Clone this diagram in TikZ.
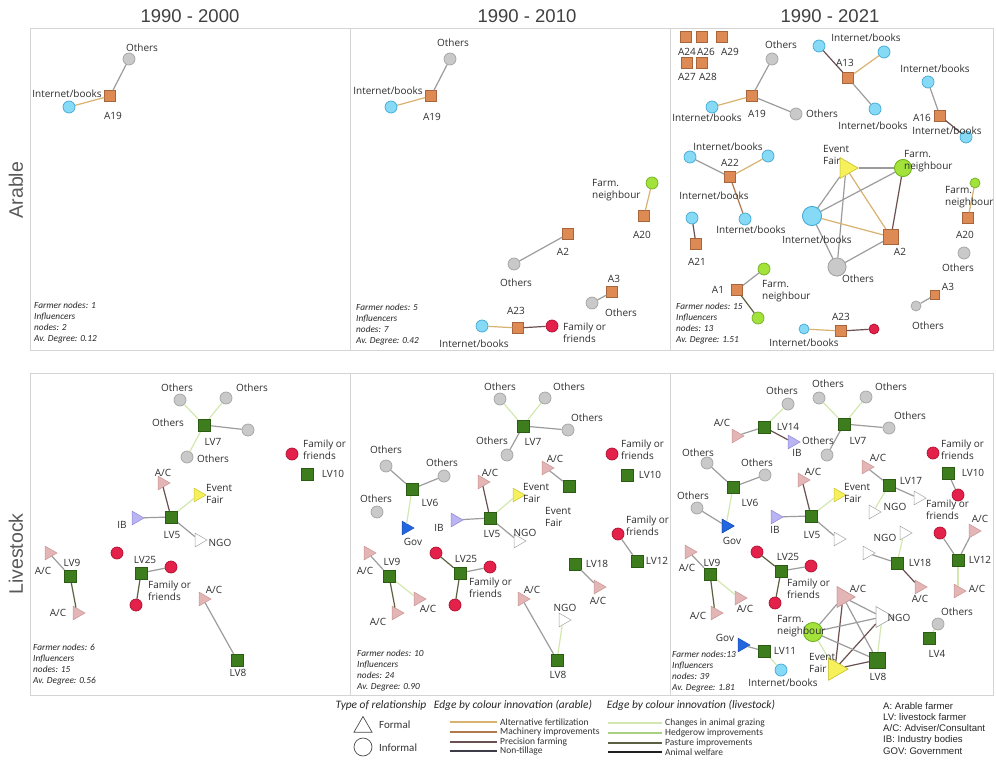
\documentclass[tikz,border=0pt]{standalone}
\usepackage{fontspec}
\setmainfont{Carlito}
\newfontfamily\arialf{Liberation Sans}
\newfontfamily\opens{Open Sans}
\usetikzlibrary{shapes.geometric}
\definecolor{arab}{HTML}{DE8A55}\definecolor{arabd}{HTML}{A8643A}
\definecolor{lvg}{HTML}{3E7D1E}\definecolor{lvgd}{HTML}{2C5C14}
\definecolor{othc}{HTML}{C9C9C9}\definecolor{othd}{HTML}{A3A3A3}
\definecolor{cyn}{HTML}{86DAF5}\definecolor{cynd}{HTML}{3FA9D6}
\definecolor{nbrc}{HTML}{A2E23A}\definecolor{nbrd}{HTML}{70B020}
\definecolor{famc}{HTML}{E3214B}\definecolor{famd}{HTML}{B0102E}
\definecolor{acp}{HTML}{E3B5B5}\definecolor{acpd}{HTML}{C89494}
\definecolor{ibc}{HTML}{BBB4F2}\definecolor{ibd}{HTML}{8F86D8}
\definecolor{yelc}{HTML}{F6F05A}\definecolor{yeld}{HTML}{C9C23A}
\definecolor{govc}{HTML}{2266E0}\definecolor{govd}{HTML}{1A4FB0}
\definecolor{eAF}{HTML}{D9B26F}\definecolor{eMI}{HTML}{B07A50}
\definecolor{ePF}{HTML}{6A5050}\definecolor{eNT}{HTML}{3E3C48}
\definecolor{eCG}{HTML}{D2E8B0}\definecolor{eHI}{HTML}{A8D080}
\definecolor{ePI}{HTML}{5A6040}\definecolor{eAW}{HTML}{202020}
\definecolor{egr}{HTML}{9C9C9C}\definecolor{panelc}{HTML}{D4D4D4}
\tikzset{
  panel/.style={draw=panelc, line width=0.6pt},
  sqa/.style={rectangle, fill=arab, draw=arabd, line width=0.4pt, minimum size=11pt, inner sep=0pt},
  sql/.style={rectangle, fill=lvg, draw=lvgd, line width=0.4pt, minimum size=12pt, inner sep=0pt},
  crc/.style={circle, minimum size=12pt, inner sep=0pt, line width=0.7pt},
  oth/.style={crc, fill=othc, draw=othd},
  inet/.style={crc, fill=cyn, draw=cynd},
  nbr/.style={crc, fill=nbrc, draw=nbrd},
  fam/.style={crc, fill=famc, draw=famd},
  tri/.style={regular polygon, regular polygon sides=3, shape border rotate=-90, minimum size=16pt, inner sep=0pt, line width=0.5pt},
  ac/.style={tri, fill=acp, draw=acpd},
  ib/.style={tri, fill=ibc, draw=ibd},
  ev/.style={tri, fill=yelc, draw=yeld},
  gov/.style={tri, fill=govc, draw=govd},
  ngo/.style={tri, fill=white, draw=othd},
  lbl/.style={font=\opens\fontsize{10}{12}\selectfont, text=black!82, inner sep=0pt, align=left},
  stat/.style={font=\fontsize{9.3}{11}\selectfont\itshape, text=black!85, inner sep=0pt, align=left, anchor=north west},
  ttl/.style={font=\arialf\fontsize{18.5}{20}\selectfont, text=black!75, inner sep=0pt},
  row/.style={font=\arialf\fontsize{19.5}{20}\selectfont, text=black!65, inner sep=0pt, rotate=90},
  ed/.style={line width=1.2pt},
  eg/.style={ed, draw=egr},
  ea/.style={ed, draw=eAF},
  em/.style={ed, draw=eMI},
  ep/.style={ed, draw=ePF},
  ec/.style={ed, draw=eCG},
  eh/.style={ed, draw=eHI},
  eo/.style={ed, draw=ePI},
  lgt/.style={font=\fontsize{9.5}{10}\selectfont, text=black!80, inner sep=0pt, anchor=west},
  lgh/.style={font=\fontsize{11.4}{12}\selectfont\itshape, text=black!85, inner sep=0pt},
  lgr/.style={font=\arialf\fontsize{9.6}{10}\selectfont, text=black!85, inner sep=0pt, anchor=west},
}
\begin{document}
\begin{tikzpicture}[x=1pt,y=-1pt]
\useasboundingbox[fill=white] (0,0) rectangle (996,760);
% titles
\node[ttl] (t1) at (190,16) {1990 - 2000};
\node[ttl] (t2) at (527,16) {1990 - 2010};
\node[ttl] (t3) at (830,16) {1990 - 2021};
\node[row] (r1) at (16,190) {Arable};
\node[row] (r2) at (16,554) {Livestock};
% panels
\draw[panel] (30,28) rectangle (350,350);
\draw[panel] (350,28) rectangle (670,350);
\draw[panel] (670,28) rectangle (993,350);
\draw[panel] (30,373) rectangle (350,695);
\draw[panel] (350,373) rectangle (670,695);
\draw[panel] (670,373) rectangle (993,695);

%================ Panel 1: Arable 1990-2000
\node[sqa] (a1A19) at (110,96) {};
\node[oth] (a1o) at (129,59) {};
\node[inet] (a1i) at (69,107) {};
\draw[eg] (a1A19) -- (a1o);
\draw[ea] (a1A19) -- (a1i);
\node[lbl] (a1lo) at (142,48) {Others};
\node[lbl] (a1la) at (113,116) {A19};
\node[lbl] (a1li) at (67,94) {Internet/books};
\node[stat] (a1s) at (34,302) {Farmer nodes: 1\\Influencers\\nodes: 2\\Av. Degree: 0.12};

%================ Panel 2: Arable 1990-2010
\node[sqa] (a2A19) at (431,96) {};
\node[oth] (a2o1) at (450,59) {};
\node[inet] (a2i1) at (391,107) {};
\node[nbr] (a2n) at (652,183) {};
\node[sqa] (a2A20) at (644,216) {};
\node[sqa] (a2A2) at (568,234) {};
\node[oth] (a2o2) at (514,264) {};
\node[sqa] (a2A3) at (612,292) {};
\node[oth] (a2o3) at (592,303) {};
\node[sqa] (a2A23) at (518,328) {};
\node[inet] (a2i2) at (482,326) {};
\node[fam] (a2f) at (552,326) {};
\draw[eg] (a2A19) -- (a2o1);
\draw[ea] (a2A19) -- (a2i1);
\draw[ea] (a2A20) -- (a2n);
\draw[eg] (a2A2) -- (a2o2);
\draw[eg] (a2A3) -- (a2o3);
\draw[ea] (a2A23) -- (a2i2);
\draw[ep] (a2A23) -- (a2f);
\node[lbl] (a2l1) at (453,43) {Others};
\node[lbl] (a2l2) at (432,117) {A19};
\node[lbl] (a2l3) at (388,91) {Internet/books};
\node[lbl, anchor=west] (a2l4) at (592,190) {Farm.\\neighbour};
\node[lbl] (a2l5) at (642,235) {A20};
\node[lbl] (a2l6) at (563,252) {A2};
\node[lbl] (a2l7) at (516,283) {Others};
\node[lbl] (a2l8) at (614,279) {A3};
\node[lbl] (a2l9) at (621,313) {Others};
\node[lbl] (a2l10) at (516,311) {A23};
\node[lbl] (a2l11) at (474,344) {Internet/books};
\node[lbl, anchor=west] (a2l12) at (563,333) {Family or\\friends};
\node[stat] (a2s) at (356,304) {Farmer nodes: 5\\Influencers\\nodes: 7\\Av. Degree: 0.42};

%================ Panel 3: Arable 1990-2021
\node[sqa] (a3A24) at (686,37) {};
\node[sqa] (a3A26) at (702,37) {};
\node[sqa] (a3A29) at (722,37) {};
\node[sqa] (a3A27) at (687,63) {};
\node[sqa] (a3A28) at (702,63) {};
\node[lbl] (a3l24) at (687,52) {A24};
\node[lbl] (a3l26) at (706,52) {A26};
\node[lbl] (a3l29) at (730,52) {A29};
\node[lbl] (a3l27) at (687,77) {A27};
\node[lbl] (a3l28) at (708,77) {A28};
% A19
\node[sqa] (a3A19) at (752,96) {};
\node[oth] (a3o1) at (772,59) {};
\node[inet] (a3i1) at (712,107) {};
\node[oth] (a3o2) at (796,114) {};
\draw[eg] (a3A19) -- (a3o1);
\draw[ea] (a3A19) -- (a3i1);
\draw[eg] (a3A19) -- (a3o2);
\node[lbl] (a3l1) at (757,114) {A19};
\node[lbl] (a3l2) at (707,118) {Internet/books};
\node[lbl] (a3l3) at (781,45) {Others};
\node[lbl] (a3l4) at (822,114) {Others};
% A13
\node[sqa] (a3A13) at (848,78) {};
\node[inet] (a3i2) at (819,46) {};
\node[inet] (a3i3) at (884,52) {};
\node[inet] (a3i4) at (875,109) {};
\draw[ep] (a3A13) -- (a3i2);
\draw[ea] (a3A13) -- (a3i3);
\draw[eg] (a3A13) -- (a3i4);
\node[lbl] (a3l5) at (845,63) {A13};
\node[lbl] (a3l6) at (866,38) {Internet/books};
\node[lbl] (a3l7) at (873,126) {Internet/books};
% A16
\node[sqa] (a3A16) at (940,116) {};
\node[inet] (a3i5) at (928,82) {};
\node[inet] (a3i6) at (966,137) {};
\draw[eg] (a3A16) -- (a3i5);
\draw[ep] (a3A16) -- (a3i6);
\node[lbl] (a3l8) at (935,69) {Internet/books};
\node[lbl] (a3l9) at (922,118) {A16};
\node[lbl] (a3l10) at (947,131) {Internet/books};
% A22
\node[sqa] (a3A22) at (730,177) {};
\node[inet] (a3i7) at (690,157) {};
\node[inet] (a3i8) at (768,156) {};
\node[inet] (a3i9) at (745,219) {};
\draw[eg] (a3A22) -- (a3i7);
\draw[ea] (a3A22) -- (a3i8);
\draw[em] (a3A22) -- (a3i9);
\node[lbl] (a3l11) at (730,163) {A22};
\node[lbl] (a3l12) at (728,147) {Internet/books};
\node[lbl] (a3l13) at (714,196) {Internet/books};
\node[lbl] (a3l14) at (751,230) {Internet/books};
% A21
\node[sqa] (a3A21) at (696,244) {};
\node[inet] (a3i10) at (692,218) {};
\draw[ep] (a3A21) -- (a3i10);
\node[lbl] (a3l15) at (697,262) {A21};
% K5
\node[ev, minimum size=24pt] (a3ev) at (846,168) {};
\node[nbr, minimum size=17pt] (a3n1) at (903,168) {};
\node[inet, minimum size=19pt] (a3i11) at (812,216) {};
\node[sqa, minimum size=15pt] (a3A2) at (891,237) {};
\node[oth, minimum size=18pt] (a3o3) at (837,267) {};
\draw[eg] (a3ev) -- (a3n1);
\draw[eg] (a3ev) -- (a3i11);
\draw[ea] (a3ev) -- (a3A2);
\draw[eg] (a3ev) -- (a3o3);
\draw[eg] (a3n1) -- (a3i11);
\draw[ep] (a3n1) -- (a3A2);
\draw[ea] (a3i11) -- (a3A2);
\draw[eg] (a3i11) -- (a3o3);
\draw[eg] (a3o3) -- (a3A2);
\node[ev, minimum size=24pt] (a3evb) at (846,168) {};
\node[nbr, minimum size=17pt] (a3n1b) at (903,168) {};
\node[inet, minimum size=19pt] (a3i11b) at (812,216) {};
\node[sqa, minimum size=15pt] (a3A2b) at (891,237) {};
\node[oth, minimum size=18pt] (a3o3b) at (837,267) {};
\node[lbl, anchor=west] (a3l16) at (823,155) {Event\\Fair};
\node[lbl, anchor=west] (a3l17) at (904,161) {Farm.\\neighbour};
\node[lbl] (a3l18) at (817,240) {Internet/books};
\node[lbl] (a3l19) at (900,252) {A2};
\node[lbl] (a3l20) at (858,279) {Others};
% A20
\node[nbr, minimum size=10pt] (a3n2) at (975,183) {};
\node[sqa] (a3A20) at (968,218) {};
\node[oth] (a3o4) at (964,253) {};
\draw[ea] (a3A20) -- (a3n2);
\node[lbl, anchor=west] (a3l21) at (945,197) {Farm.\\neighbour};
\node[lbl] (a3l22) at (965,235) {A20};
\node[lbl] (a3l23) at (958,268) {Others};
% A1
\node[sqa] (a3A1) at (737,290) {};
\node[nbr] (a3n3) at (764,269) {};
\node[nbr] (a3n4) at (758,318) {};
\draw[eg] (a3A1) -- (a3n3);
\draw[eo] (a3A1) -- (a3n4);
\node[lbl] (a3l24b) at (718,290) {A1};
\node[lbl, anchor=west] (a3l25) at (762,291) {Farm.\\neighbour};
% A3
\node[sqa, minimum size=9pt] (a3A3) at (935,295) {};
\node[oth, minimum size=10pt] (a3o5) at (916,306) {};
\draw[eg] (a3A3) -- (a3o5);
\node[lbl] (a3l26b) at (948,287) {A3};
\node[lbl] (a3l27b) at (928,326) {Others};
% A23
\node[sqa] (a3A23) at (841,331) {};
\node[inet, minimum size=10pt] (a3i12) at (804,329) {};
\node[fam, minimum size=10pt] (a3f) at (874,329) {};
\draw[ea] (a3A23) -- (a3i12);
\draw[ep] (a3A23) -- (a3f);
\node[lbl] (a3l28b) at (841,317) {A23};
\node[lbl] (a3l29b) at (804,343) {Internet/books};
\node[stat] (a3s) at (676,303) {Farmer nodes: 15\\Influencers\\nodes: 13\\Av. Degree: 1.51};

%================ Panel 4: Livestock 1990-2000
\node[sql] (b1LV7) at (204,425) {};
\node[oth] (b1o1) at (180,400) {};
\node[oth] (b1o2) at (226,398) {};
\node[oth] (b1o3) at (248,430) {};
\node[oth] (b1o4) at (187,457) {};
\draw[ec] (b1LV7) -- (b1o1);
\draw[ec] (b1LV7) -- (b1o2);
\draw[eg] (b1LV7) -- (b1o3);
\draw[ec] (b1LV7) -- (b1o4);
\node[sql] (b1LV7b) at (204,425) {};
\node[lbl] (b1l1) at (213,442) {LV7};
\node[lbl] (b1l2) at (177,388) {Others};
\node[lbl] (b1l3) at (252,388) {Others};
\node[lbl] (b1l4) at (168,423) {Others};
\node[lbl] (b1l5) at (213,459) {Others};
\node[fam] (b1f1) at (292,454) {};
\node[sql] (b1LV10) at (307,474) {};
\node[lbl, anchor=west] (b1l6) at (303,450) {Family or\\friends};
\node[lbl] (b1l7) at (333,474) {LV10};
\node[sql] (b1LV5) at (171,517) {};
\node[ac] (b1ac1) at (162,483) {};
\node[ev] (b1ev) at (198,495) {};
\node[ib] (b1ib) at (136,518) {};
\node[ngo] (b1ngo) at (199,540) {};
\draw[ep] (b1LV5) -- (b1ac1);
\draw[ec] (b1LV5) -- (b1ev);
\draw[eg] (b1LV5) -- (b1ib);
\draw[eg] (b1LV5) -- (b1ngo);
\node[sql] (b1LV5b) at (171,517) {};
\node[lbl] (b1l8) at (172,535) {LV5};
\node[lbl] (b1l9) at (163,473) {A/C};
\node[lbl, anchor=west] (b1l10) at (206,494) {Event\\Fair};
\node[lbl] (b1l11) at (122,525) {IB};
\node[lbl] (b1l12) at (220,543) {NGO};
\node[sql] (b1LV9) at (70,576) {};
\node[ac] (b1ac2) at (49,553) {};
\node[ac] (b1ac3) at (77,613) {};
\draw[eg] (b1LV9) -- (b1ac2);
\draw[eo] (b1LV9) -- (b1ac3);
\node[sql] (b1LV9b) at (70,576) {};
\node[lbl] (b1l13) at (72,563) {LV9};
\node[lbl] (b1l14) at (43,571) {A/C};
\node[lbl] (b1l15) at (58,613) {A/C};
\node[sql] (b1LV25) at (141,573) {};
\node[fam] (b1f2) at (117,553) {};
\node[fam] (b1f3) at (171,567) {};
\node[fam] (b1f4) at (136,605) {};
\draw[eg] (b1LV25) -- (b1f3);
\draw[eo] (b1LV25) -- (b1f4);
\node[sql] (b1LV25b) at (141,573) {};
\node[lbl] (b1l16) at (145,560) {LV25};
\node[lbl, anchor=west] (b1l17) at (148,591) {Family or\\friends};
\node[sql] (b1LV8) at (237,660) {};
\node[ac] (b1ac4) at (203,599) {};
\draw[eg] (b1LV8) -- (b1ac4);
\node[sql] (b1LV8b) at (237,660) {};
\node[lbl] (b1l18) at (214,590) {A/C};
\node[lbl] (b1l19) at (238,673) {LV8};
\node[stat] (b1s) at (33,644) {Farmer nodes: 6\\Influencers\\nodes: 15\\Av. Degree: 0.56};

%================ Panel 5: Livestock 1990-2010
\node[sql] (b2LV7) at (523,426) {};
\node[oth] (b2o1) at (500,399) {};
\node[oth] (b2o2) at (545,398) {};
\node[oth] (b2o3) at (568,430) {};
\node[oth] (b2o4) at (507,455) {};
\draw[ec] (b2LV7) -- (b2o1);
\draw[ec] (b2LV7) -- (b2o2);
\draw[eg] (b2LV7) -- (b2o3);
\draw[eg] (b2LV7) -- (b2o4);
\node[sql] (b2LV7b) at (523,426) {};
\node[lbl] (b2l1) at (533,442) {LV7};
\node[lbl] (b2l2) at (500,387) {Others};
\node[lbl] (b2l3) at (569,387) {Others};
\node[lbl] (b2l4) at (587,418) {Others};
\node[lbl] (b2l5) at (492,441) {Others};
\node[fam] (b2f1) at (612,454) {};
\node[sql] (b2LV10) at (627,475) {};
\node[lbl, anchor=west] (b2l6) at (621,450) {Family or\\friends};
\node[lbl] (b2l7) at (650,475) {LV10};
\node[ac] (b2ac1) at (546,468) {};
\node[sql] (b2sq) at (569,486) {};
\draw[eg] (b2sq) -- (b2ac1);
\node[lbl] (b2l8) at (555,459) {A/C};
\node[sql] (b2LV6) at (412,489) {};
\node[oth] (b2o5) at (386,466) {};
\node[oth] (b2o6) at (444,476) {};
\node[oth] (b2o7) at (377,512) {};
\node[gov] (b2gov) at (406,528) {};
\draw[eg] (b2LV6) -- (b2o5);
\draw[eg] (b2LV6) -- (b2o6);
\draw[ec] (b2LV6) -- (b2gov);
\node[sql] (b2LV6b) at (412,489) {};
\node[lbl] (b2l9) at (430,503) {LV6};
\node[lbl] (b2l10) at (386,450) {Others};
\node[lbl] (b2l11) at (442,463) {Others};
\node[lbl] (b2l12) at (376,499) {Others};
\node[lbl] (b2l13) at (413,542) {Gov};
\node[sql] (b2LV5) at (490,518) {};
\node[ac] (b2ac2) at (482,482) {};
\node[ev] (b2ev) at (517,495) {};
\node[ib] (b2ib) at (455,520) {};
\node[ngo] (b2ngo) at (518,541) {};
\draw[ep] (b2LV5) -- (b2ac2);
\draw[ec] (b2LV5) -- (b2ev);
\draw[eg] (b2LV5) -- (b2ib);
\draw[eg] (b2LV5) -- (b2ngo);
\node[sql] (b2LV5b) at (490,518) {};
\node[lbl] (b2l14) at (492,534) {LV5};
\node[lbl] (b2l15) at (490,473) {A/C};
\node[lbl, anchor=west] (b2l16) at (523,493) {Event\\Fair};
\node[lbl, anchor=west] (b2l17) at (545,517) {Event\\Fair};
\node[lbl] (b2l18) at (439,528) {IB};
\node[lbl] (b2l19) at (525,533) {NGO};
\node[fam] (b2f2) at (618,534) {};
\node[sql] (b2LV12) at (637,561) {};
\draw[eg] (b2LV12) -- (b2f2);
\node[sql] (b2LV12b) at (637,561) {};
\node[lbl, anchor=west] (b2l20) at (626,526) {Family or\\friends};
\node[lbl] (b2l21) at (657,561) {LV12};
\node[sql] (b2LV18) at (575,564) {};
\node[ac] (b2ac3) at (598,587) {};
\draw[eg] (b2LV18) -- (b2ac3);
\node[lbl] (b2l22) at (597,564) {LV18};
\node[lbl] (b2l23) at (598,601) {A/C};
\node[sql] (b2LV9) at (389,576) {};
\node[ac] (b2ac4) at (368,553) {};
\node[ac] (b2ac5) at (418,599) {};
\node[ac] (b2ac6) at (396,613) {};
\draw[eg] (b2LV9) -- (b2ac4);
\draw[ec] (b2LV9) -- (b2ac5);
\draw[eo] (b2LV9) -- (b2ac6);
\node[sql] (b2LV9b) at (389,576) {};
\node[lbl] (b2l24) at (392,562) {LV9};
\node[lbl] (b2l25) at (365,571) {A/C};
\node[lbl] (b2l26) at (428,609) {A/C};
\node[lbl] (b2l27) at (378,622) {A/C};
\node[sql] (b2LV25) at (460,573) {};
\node[fam] (b2f3) at (436,553) {};
\node[fam] (b2f4) at (490,567) {};
\node[fam] (b2f5) at (455,605) {};
\draw[eo] (b2LV25) -- (b2f3);
\draw[eg] (b2LV25) -- (b2f4);
\draw[eo] (b2LV25) -- (b2f5);
\node[sql] (b2LV25b) at (460,573) {};
\node[lbl] (b2l28) at (466,559) {LV25};
\node[lbl, anchor=west] (b2l29) at (469,588) {Family or\\friends};
\node[sql] (b2LV8) at (557,660) {};
\node[ac] (b2ac7) at (522,599) {};
\node[ngo] (b2ngo2) at (563,620) {};
\draw[eg] (b2LV8) -- (b2ac7);
\draw[ec] (b2LV8) -- (b2ngo2);
\node[sql] (b2LV8b) at (557,660) {};
\node[lbl] (b2l30) at (532,590) {A/C};
\node[lbl] (b2l31) at (565,608) {NGO};
\node[lbl] (b2l32) at (558,675) {LV8};
\node[stat] (b2s) at (357,650) {Farmer nodes: 10\\Influencers\\nodes: 24\\Av. Degree: 0.90};

%================ Panel 6: Livestock 1990-2021
\node[sql] (b3LV14) at (764,427) {};
\node[oth] (b3o1) at (788,404) {};
\node[ac] (b3ac1) at (736,436) {};
\node[ib] (b3ib1) at (792,442) {};
\draw[ec] (b3LV14) -- (b3o1);
\draw[eg] (b3LV14) -- (b3ac1);
\draw[ep] (b3LV14) -- (b3ib1);
\node[sql] (b3LV14b) at (764,427) {};
\node[lbl] (b3l1) at (788,427) {LV14};
\node[lbl] (b3l2) at (782,391) {Others};
\node[lbl] (b3l3) at (722,423) {A/C};
\node[lbl] (b3l4) at (797,453) {IB};
\node[sql] (b3LV7) at (844,424) {};
\node[oth] (b3o2) at (819,398) {};
\node[oth] (b3o3) at (866,397) {};
\node[oth] (b3o4) at (889,428) {};
\node[oth] (b3o5) at (827,455) {};
\draw[ec] (b3LV7) -- (b3o2);
\draw[ec] (b3LV7) -- (b3o3);
\draw[eg] (b3LV7) -- (b3o4);
\draw[eg] (b3LV7) -- (b3o5);
\node[sql] (b3LV7b) at (844,424) {};
\node[lbl] (b3l5) at (858,441) {LV7};
\node[lbl] (b3l6) at (828,384) {Others};
\node[lbl] (b3l7) at (891,387) {Others};
\node[lbl] (b3l8) at (910,416) {Others};
\node[lbl] (b3l9) at (818,441) {Others};
\node[fam] (b3f1) at (933,453) {};
\node[sql] (b3LV10) at (948,473) {};
\node[fam] (b3f2) at (958,495) {};
\draw[eg] (b3LV10) -- (b3f2);
\node[sql] (b3LV10b) at (948,473) {};
\node[lbl, anchor=west] (b3l10) at (941,450) {Family or\\friends};
\node[lbl] (b3l11) at (973,473) {LV10};
\node[lbl, anchor=west] (b3l12) at (926,510) {Family or\\friends};
\node[sql] (b3LV17) at (889,485) {};
\node[ac] (b3ac2) at (866,467) {};
\node[ngo] (b3ngo1) at (918,498) {};
\node[ngo] (b3ngo2) at (873,512) {};
\draw[eg] (b3LV17) -- (b3ac2);
\draw[eg] (b3LV17) -- (b3ngo1);
\draw[ec] (b3LV17) -- (b3ngo2);
\node[sql] (b3LV17b) at (889,485) {};
\node[lbl] (b3l13) at (911,481) {LV17};
\node[lbl] (b3l14) at (878,458) {A/C};
\node[lbl] (b3l15) at (895,507) {NGO};
\node[sql] (b3LV6) at (733,487) {};
\node[oth] (b3o6) at (707,463) {};
\node[oth] (b3o7) at (765,475) {};
\node[oth] (b3o8) at (697,508) {};
\node[gov] (b3gov1) at (726,526) {};
\draw[eg] (b3LV6) -- (b3o6);
\draw[eg] (b3LV6) -- (b3o7);
\draw[ec] (b3LV6) -- (b3gov1);
\draw[eg] (b3o8) -- (b3gov1);
\node[sql] (b3LV6b) at (733,487) {};
\node[gov] (b3gov1b) at (726,526) {};
\node[lbl] (b3l16) at (750,503) {LV6};
\node[lbl] (b3l17) at (698,453) {Others};
\node[lbl] (b3l18) at (757,463) {Others};
\node[lbl] (b3l19) at (693,496) {Others};
\node[lbl] (b3l20) at (732,541) {Gov};
\node[sql] (b3LV5) at (811,516) {};
\node[ac] (b3ac3) at (802,480) {};
\node[ev] (b3ev1) at (838,495) {};
\node[ib] (b3ib2) at (775,517) {};
\node[ngo] (b3ngo3) at (838,539) {};
\draw[ep] (b3LV5) -- (b3ac3);
\draw[ec] (b3LV5) -- (b3ev1);
\draw[eg] (b3LV5) -- (b3ib2);
\draw[eg] (b3LV5) -- (b3ngo3);
\node[sql] (b3LV5b) at (811,516) {};
\node[lbl] (b3l21) at (812,535) {LV5};
\node[lbl] (b3l22) at (813,472) {A/C};
\node[lbl, anchor=west] (b3l23) at (844,493) {Event\\Fair};
\node[lbl] (b3l24) at (775,530) {IB};
\node[sql] (b3LV18) at (897,563) {};
\node[ngo] (b3ngo4) at (904,533) {};
\node[ngo] (b3ngo5) at (867,553) {};
\node[ac] (b3ac4) at (919,587) {};
\draw[ec] (b3LV18) -- (b3ngo4);
\draw[eg] (b3LV18) -- (b3ngo5);
\draw[ep] (b3LV18) -- (b3ac4);
\node[sql] (b3LV18b) at (897,563) {};
\node[lbl] (b3l25) at (885,538) {NGO};
\node[lbl] (b3l26) at (920,563) {LV18};
\node[lbl] (b3l27) at (920,599) {A/C};
\node[sql] (b3LV12) at (958,560) {};
\node[fam] (b3f3) at (940,533) {};
\node[ac] (b3ac5) at (973,531) {};
\node[ac] (b3ac6) at (958,591) {};
\draw[eg] (b3LV12) -- (b3f3);
\draw[eg] (b3LV12) -- (b3ac5);
\draw[ec] (b3LV12) -- (b3ac6);
\node[sql] (b3LV12b) at (958,560) {};
\node[lbl] (b3l28) at (980,519) {A/C};
\node[lbl] (b3l29) at (980,560) {LV12};
\node[lbl] (b3l30) at (977,589) {A/C};
\node[sql] (b3LV4) at (929,638) {};
\node[oth] (b3o9) at (938,624) {};
\draw[ec] (b3LV4) -- (b3o9);
\node[lbl] (b3l31) at (957,612) {Others};
\node[lbl] (b3l32) at (937,654) {LV4};
\node[sql] (b3LV9) at (710,574) {};
\node[ac] (b3ac7) at (689,552) {};
\node[ac] (b3ac8) at (739,598) {};
\node[ac] (b3ac9) at (715,613) {};
\draw[eg] (b3LV9) -- (b3ac7);
\draw[ec] (b3LV9) -- (b3ac8);
\draw[eo] (b3LV9) -- (b3ac9);
\node[sql] (b3LV9b) at (710,574) {};
\node[lbl] (b3l33) at (712,563) {LV9};
\node[lbl] (b3l34) at (687,568) {A/C};
\node[lbl] (b3l35) at (745,609) {A/C};
\node[lbl] (b3l36) at (698,616) {A/C};
\node[sql] (b3LV25) at (781,571) {};
\node[fam] (b3f4) at (757,552) {};
\node[fam] (b3f5) at (811,566) {};
\node[fam] (b3f6) at (775,603) {};
\draw[eo] (b3LV25) -- (b3f4);
\draw[eg] (b3LV25) -- (b3f5);
\draw[eo] (b3LV25) -- (b3f6);
\node[sql] (b3LV25b) at (781,571) {};
\node[lbl] (b3l37) at (788,557) {LV25};
\node[lbl, anchor=west] (b3l38) at (787,589) {Family or\\friends};
% K5
\node[ac, minimum size=24pt] (b3ac10) at (843,597) {};
\node[ngo, minimum size=24pt] (b3ngo6) at (882,617) {};
\node[nbr, minimum size=19pt] (b3n) at (813,632) {};
\node[ev, minimum size=26pt] (b3ev2) at (835,669) {};
\node[sql, minimum size=16pt] (b3LV8) at (877,660) {};
\draw[eg] (b3ac10) -- (b3ngo6);
\draw[eg] (b3ac10) -- (b3n);
\draw[ep] (b3ac10) -- (b3ev2);
\draw[eg] (b3ac10) -- (b3LV8);
\draw[eg] (b3ngo6) -- (b3n);
\draw[ep] (b3ngo6) -- (b3ev2);
\draw[ec] (b3ngo6) -- (b3LV8);
\draw[ec] (b3n) -- (b3ev2);
\draw[eg] (b3n) -- (b3LV8);
\draw[ep] (b3ev2) -- (b3LV8);
\node[ac, minimum size=24pt] (b3ac10b) at (843,597) {};
\node[ngo, minimum size=24pt] (b3ngo6b) at (882,617) {};
\node[nbr, minimum size=19pt] (b3nb) at (813,632) {};
\node[ev, minimum size=26pt] (b3ev2b) at (835,669) {};
\node[sql, minimum size=16pt] (b3LV8b) at (877,660) {};
\node[lbl] (b3l39) at (858,589) {A/C};
\node[lbl] (b3l40) at (899,618) {NGO};
\node[lbl, anchor=west] (b3l41) at (777,626) {Farm.\\neighbour};
\node[lbl, anchor=west] (b3l42) at (809,663) {Event\\Fair};
\node[lbl] (b3l43) at (878,677) {LV8};
\node[sql] (b3LV11) at (764,651) {};
\node[gov] (b3gov2) at (742,645) {};
\node[inet] (b3i) at (781,670) {};
\draw[eg] (b3LV11) -- (b3gov2);
\draw[ec] (b3LV11) -- (b3i);
\node[sql] (b3LV11b) at (764,651) {};
\node[lbl] (b3l44) at (725,638) {Gov};
\node[lbl] (b3l45) at (785,651) {LV11};
\node[lbl] (b3l46) at (783,683) {Internet/books};
\node[stat] (b3s) at (672,651) {Farmer nodes:13\\Influencers\\nodes: 39\\Av. Degree: 1.81};

%================ Legend
\node[lgh] (lg1) at (381,705) {Type of relationship};
\node[regular polygon, regular polygon sides=3, draw=black!70, line width=0.7pt, minimum size=21pt, inner sep=0pt] (lgtri) at (363,727) {};
\node[circle, draw=black!70, line width=0.7pt, minimum size=18pt, inner sep=0pt] (lgcirc) at (363,747) {};
\node[lgt, font=\fontsize{11}{12}\selectfont] (lgf) at (379,725) {Formal};
\node[lgt, font=\fontsize{11}{12}\selectfont] (lgi) at (379,748) {Informal};
\node[lgh] (lg2) at (513,705) {Edge by colour innovation (arable)};
\coordinate (la1) at (450,722); \coordinate (la1e) at (497,722);
\coordinate (la2) at (450,732); \coordinate (la2e) at (497,732);
\coordinate (la3) at (450,742); \coordinate (la3e) at (497,742);
\coordinate (la4) at (450,751); \coordinate (la4e) at (497,751);
\draw[ed, draw=eAF] (la1) -- (la1e);
\draw[ed, draw=eMI] (la2) -- (la2e);
\draw[ed, draw=ePF] (la3) -- (la3e);
\draw[ed, draw=eNT] (la4) -- (la4e);
\node[lgt] (lgt1) at (500,722) {Alternative fertilization};
\node[lgt] (lgt2) at (500,732) {Machinery improvements};
\node[lgt] (lgt3) at (500,742) {Precision farming};
\node[lgt] (lgt4) at (500,751) {Non-tillage};
\node[lgh] (lg3) at (691,705) {Edge by colour innovation (livestock)};
\coordinate (lb1) at (608,723); \coordinate (lb1e) at (662,723);
\coordinate (lb2) at (608,733); \coordinate (lb2e) at (662,733);
\coordinate (lb3) at (608,743); \coordinate (lb3e) at (662,743);
\coordinate (lb4) at (608,752); \coordinate (lb4e) at (662,752);
\draw[ed, draw=eCG] (lb1) -- (lb1e);
\draw[ed, draw=eHI] (lb2) -- (lb2e);
\draw[ed, draw=ePI] (lb3) -- (lb3e);
\draw[ed, draw=eAW] (lb4) -- (lb4e);
\node[lgt] (lgt5) at (665,723) {Changes in animal grazing};
\node[lgt] (lgt6) at (665,733) {Hedgerow improvements};
\node[lgt] (lgt7) at (665,743) {Pasture improvements};
\node[lgt] (lgt8) at (665,752) {Animal welfare};
\node[lgr] (lgr1) at (883,706) {A: Arable farmer};
\node[lgr] (lgr2) at (883,717) {LV: livestock farmer};
\node[lgr] (lgr3) at (883,728) {A/C: Adviser/Consultant};
\node[lgr] (lgr4) at (883,740) {IB: Industry bodies};
\node[lgr] (lgr5) at (883,751) {GOV: Government};
\end{tikzpicture}
\end{document}
